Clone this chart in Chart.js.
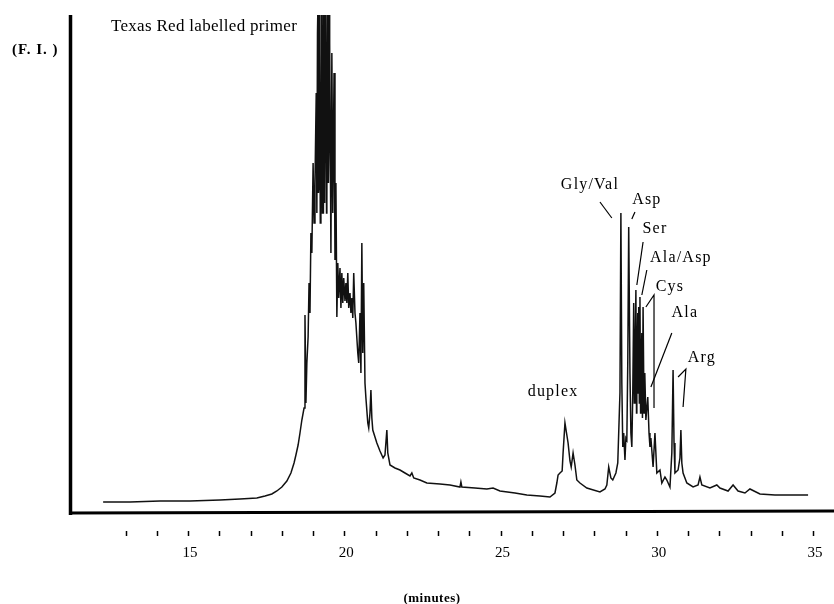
<!DOCTYPE html>
<html>
<head>
<meta charset="utf-8">
<script src="https://cdn.jsdelivr.net/npm/chart.js@4"></script>
<style>
    body { margin: 0; background: #fff; }
    canvas { display: block; }
</style>
</head>
<body>
<canvas id="trace" width="834" height="604"></canvas>
<script>
// retention time (minutes) and fluorescence intensity (arbitrary units)
var minutes = [
    12.28, 13.14, 14.10, 15.06, 16.02, 16.66, 17.20, 17.46, 17.68, 17.84, 18.00, 18.16, 18.29, 18.39, 18.45,
    18.52, 18.58, 18.64, 18.71, 18.74, 18.77, 18.80, 18.84, 18.87, 18.90, 18.93, 18.96, 19.00, 19.03, 19.06,
    19.10, 19.12, 19.14, 19.16, 19.17, 19.19, 19.20, 19.22, 19.23, 19.25, 19.27, 19.28, 19.30, 19.32, 19.33,
    19.35, 19.36, 19.38, 19.40, 19.41, 19.43, 19.44, 19.46, 19.48, 19.49, 19.51, 19.52, 19.54,
    19.57, 19.60, 19.63, 19.67, 19.70, 19.73, 19.76, 19.79, 19.82, 19.86, 19.89, 19.92, 19.95, 19.98, 20.02,
    20.05, 20.08, 20.11, 20.14, 20.18, 20.21, 20.24, 20.27, 20.30, 20.34, 20.37, 20.40, 20.43, 20.46, 20.50,
    20.53, 20.56, 20.59, 20.62, 20.66, 20.69, 20.75, 20.78, 20.82, 20.85, 20.88, 20.91, 20.98, 21.04, 21.14,
    21.24, 21.30, 21.36, 21.39, 21.46, 21.62, 21.78, 21.94, 22.10, 22.16, 22.22, 22.42, 22.64, 23.06, 23.38,
    23.70, 23.73, 23.76, 24.18, 24.56, 24.76, 24.98, 25.46, 25.84, 26.26, 26.58, 26.74, 26.80, 26.84, 26.90,
    26.97, 27.00, 27.06, 27.10, 27.16, 27.22, 27.26, 27.32, 27.38, 27.44, 27.54, 27.76, 28.18, 28.34, 28.40,
    28.46, 28.53, 28.59, 28.69, 28.75, 28.82, 28.85, 28.88, 28.91, 28.94, 28.98, 29.01, 29.04, 29.07, 29.10,
    29.14, 29.17, 29.20, 29.23, 29.26, 29.28, 29.30, 29.33, 29.35, 29.36, 29.39, 29.40, 29.42, 29.44, 29.46,
    29.48, 29.49, 29.52, 29.54, 29.56, 29.59, 29.61, 29.62, 29.65, 29.68, 29.71, 29.75, 29.78, 29.81, 29.88,
    29.94, 30.00, 30.10, 30.16, 30.26, 30.32, 30.42,
    30.48, 30.52, 30.55, 30.58, 30.68, 30.74, 30.77, 30.80, 30.84, 30.96, 31.16, 31.32, 31.38, 31.44, 31.70,
    31.92, 32.02, 32.28, 32.44, 32.60, 32.82, 32.98, 33.30, 33.78, 34.26, 34.84
];
var intensity = [
    11, 11, 12, 12, 13, 14, 15, 17, 19, 22, 26, 32, 40, 50, 58,
    68, 80, 93, 105, 198, 110, 150, 176, 230, 200, 280, 260, 350, 290, 330,
    420, 300, 480, 520, 320, 330, 500, 460, 290, 296, 520, 500, 300, 300, 520,
    520, 310, 320, 520, 520, 300, 310, 520, 520, 330, 380, 520, 470,
    260, 460, 300, 440, 253, 330, 196, 250, 215, 245, 205, 240, 210, 235, 212,
    230, 210, 240, 205, 220, 200, 215, 195, 240, 200, 190, 175, 160, 150, 200,
    140, 270, 160, 230, 130, 115, 90, 85, 100, 123, 95, 83, 76, 70, 62,
    55, 58, 83, 60, 48, 45, 43, 40, 37, 40, 35, 33, 30, 29, 28,
    26, 31, 26, 25, 24, 25, 22, 20, 18, 17, 16, 20, 30, 38, 40,
    42, 60, 90, 82, 70, 52, 46, 60, 48, 33, 30, 25, 21, 24, 28,
    46, 35, 33, 40, 50, 120, 300, 130, 66, 80, 53, 75, 73, 150, 286,
    140, 80, 66, 120, 210, 110, 150, 223, 100, 130, 200, 120, 206, 110, 216,
    100, 133, 180, 95, 206, 100, 120, 140, 93, 105, 116, 80, 66, 75, 46,
    80, 40, 43, 30, 36, 33, 26,
    60, 143, 70, 40, 43, 55, 83, 50, 40, 30, 26, 28, 36, 28, 25,
    28, 25, 22, 28, 22, 20, 24, 19, 18, 18, 18
];

var tickMinutes = [13, 14, 15, 16, 17, 18, 19, 20, 21, 22, 23, 24, 25, 26, 27, 28, 29, 30, 31, 32, 33, 34, 35];
var tickLabels = [15, 20, 25, 30, 35];

// peak names: text centre and pointer line, both in (minutes, intensity)
var peakNames = ['Gly/Val', 'Asp', 'Ser', 'Ala/Asp', 'Cys', 'Ala', 'Arg', 'duplex'];
var peakNameAt = [[27.86, 328], [29.68, 313], [29.94, 284], [30.77, 255], [30.42, 226], [30.90, 200], [31.44, 155], [26.68, 121]];
var peakPointers = [
    [[28.18, 311], [28.56, 295]],
    [[29.30, 301], [29.20, 294]],
    [[29.56, 271], [29.36, 228]],
    [[29.68, 243], [29.52, 218]],
    [[29.65, 206], [29.91, 218], [29.91, 105]],
    [[30.48, 180], [29.81, 126]],
    [[30.68, 136], [30.93, 144], [30.84, 106]],
    []
];
var primerLabel = 'Texas Red labelled primer';
var primerAt = [15.51, 486];

var points = [];
for (var i = 0; i < minutes.length; i++) {
    points.push({ x: minutes[i], y: intensity[i] });
}

var paperPlugin = {
    id: 'paper',
    beforeDraw: function (chart) {
        var ctx = chart.ctx;
        ctx.save();
        ctx.fillStyle = '#fff';
        ctx.fillRect(0, 0, chart.width, chart.height);
        ctx.restore();
    },
    afterDraw: function (chart) {
        var ctx = chart.ctx;
        var area = chart.chartArea;
        var xs = chart.scales.x;
        var ys = chart.scales.y;

        ctx.save();
        ctx.strokeStyle = '#000';
        ctx.fillStyle = '#000';

        // axis lines
        ctx.lineWidth = 3.5;
        ctx.beginPath();
        ctx.moveTo(area.left + 0.5, area.top);
        ctx.lineTo(area.left + 0.5, area.bottom + 2);
        ctx.stroke();
        ctx.lineWidth = 3;
        ctx.beginPath();
        ctx.moveTo(area.left - 1, area.bottom);
        ctx.lineTo(area.right, area.bottom - 2);
        ctx.stroke();

        // detached minute ticks below the axis
        ctx.lineWidth = 1.5;
        tickMinutes.forEach(function (t) {
            var x = Math.round(xs.getPixelForValue(t)) + 0.5;
            ctx.beginPath();
            ctx.moveTo(x, area.bottom + 18);
            ctx.lineTo(x, area.bottom + 23);
            ctx.stroke();
        });

        ctx.textAlign = 'center';
        ctx.textBaseline = 'middle';
        ctx.font = '15px "Liberation Serif"';
        tickLabels.forEach(function (t) {
            ctx.fillText(String(t), xs.getPixelForValue(t) + 2, area.bottom + 40);
        });

        ctx.font = 'bold 13px "Liberation Serif"';
        ctx.letterSpacing = '0.5px';
        ctx.fillText('(minutes)', 432, area.bottom + 86);
        ctx.textAlign = 'left';
        ctx.font = 'bold 15px "Liberation Serif"';
        ctx.letterSpacing = '1px';
        ctx.fillText('(F. I. )', 12, 50);

        ctx.textAlign = 'center';
        ctx.font = '17px "Liberation Serif"';
        ctx.letterSpacing = '0.3px';
        ctx.fillText(primerLabel, xs.getPixelForValue(primerAt[0]), ys.getPixelForValue(primerAt[1]));

        // peak names and their pointer lines
        ctx.font = '16px "Liberation Serif"';
        ctx.letterSpacing = '1.2px';
        ctx.lineWidth = 1.2;
        peakNames.forEach(function (name, k) {
            ctx.fillText(name, xs.getPixelForValue(peakNameAt[k][0]), ys.getPixelForValue(peakNameAt[k][1]));
            var p = peakPointers[k];
            if (p.length) {
                ctx.beginPath();
                ctx.moveTo(xs.getPixelForValue(p[0][0]), ys.getPixelForValue(p[0][1]));
                for (var j = 1; j < p.length; j++) {
                    ctx.lineTo(xs.getPixelForValue(p[j][0]), ys.getPixelForValue(p[j][1]));
                }
                ctx.stroke();
            }
        });
        ctx.restore();
    }
};

new Chart(document.getElementById('trace'), {
    type: 'line',
    data: {
        datasets: [{
            data: points,
            borderColor: '#111',
            borderWidth: 1.5,
            pointRadius: 0,
            tension: 0,
            fill: false
        }]
    },
    options: {
        responsive: false,
        animation: false,
        layout: { padding: { left: 70, top: 15, right: 0, bottom: 91 } },
        plugins: { legend: { display: false }, tooltip: { enabled: false } },
        scales: {
            x: { type: 'linear', display: false, min: 11.22, max: 35.67 },
            y: { display: false, min: 0, max: 498 }
        }
    },
    plugins: [paperPlugin]
});
</script>
</body>
</html>
